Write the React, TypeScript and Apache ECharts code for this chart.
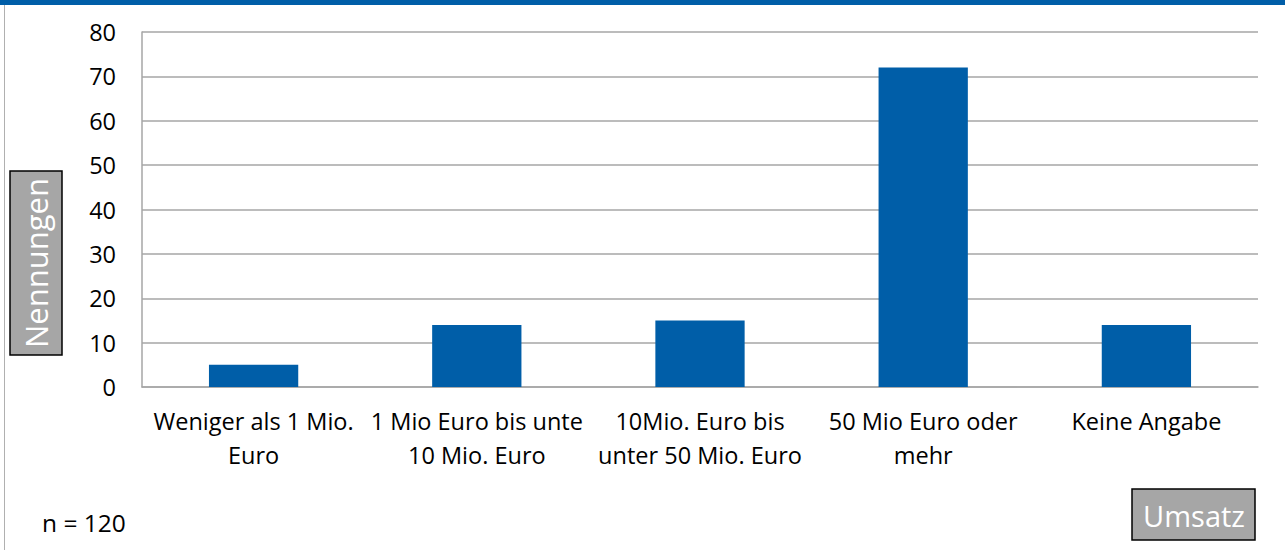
import React, { useEffect, useRef } from "react";
import * as echarts from "echarts";

const categories = [
  "Weniger als 1 Mio.\nEuro",
  "1 Mio Euro bis unte\n10 Mio. Euro",
  "10Mio. Euro bis\nunter 50 Mio. Euro",
  "50 Mio Euro oder\nmehr",
  "Keine Angabe",
];
const values = [5, 14, 15, 72, 14];
const yTicks = { min: 0, max: 80, interval: 10 };
const yAxisTitle = "Nennungen";
const xAxisTitle = "Umsatz";
const note = "n = 120";

const FONT = "'Open Sans', 'Noto Sans', sans-serif";

export default function App() {
  const ref = useRef<HTMLDivElement>(null);
  useEffect(() => {
    if (!ref.current) return;
    const chart = echarts.init(ref.current, undefined, { renderer: "svg" });
    chart.setOption({
      animation: false,
      backgroundColor: "#ffffff",
      textStyle: { fontFamily: FONT },
      grid: { left: 142, right: 27, top: 32, bottom: 163, containLabel: false },
      xAxis: {
        type: "category",
        data: categories,
        axisLine: { show: true, lineStyle: { color: "#a6a6a6", width: 1.5 } },
        axisTick: { show: false },
        axisLabel: {
          color: "#000",
          fontSize: 23.5,
          fontFamily: FONT,
          lineHeight: 34,
          margin: 17,
          interval: 0,
        },
      },
      yAxis: {
        type: "value",
        min: yTicks.min,
        max: yTicks.max,
        interval: yTicks.interval,
        axisLine: { show: true, lineStyle: { color: "#a6a6a6", width: 1.5 } },
        axisTick: { show: false },
        splitLine: { show: true, lineStyle: { color: "#a6a6a6", width: 1.5 } },
        axisLabel: { color: "#000", fontSize: 23.5, fontFamily: FONT, margin: 26 },
      },
      series: [
        {
          type: "bar",
          data: values,
          barWidth: "40%",
          itemStyle: { color: "#005ea8" },
        },
      ],
      graphic: [
        { type: "rect", shape: { x: 0, y: 0, width: 1285, height: 5 }, style: { fill: "#005ea8" }, silent: true },
        { type: "rect", shape: { x: 4, y: 5, width: 1, height: 545 }, style: { fill: "#b0b0b0" }, silent: true },
        {
          type: "rect",
          shape: { x: 10, y: 171, width: 52, height: 184 },
          style: { fill: "#a6a6a6", stroke: "#000", lineWidth: 1.5 },
        },
        {
          type: "text",
          x: 36,
          y: 263,
          rotation: Math.PI / 2,
          style: {
            text: yAxisTitle,
            fill: "#ffffff",
            font: `31px ${FONT}`,
            align: "center",
            verticalAlign: "middle",
          },
        },
        {
          type: "rect",
          shape: { x: 1132, y: 489, width: 123, height: 51 },
          style: { fill: "#a6a6a6", stroke: "#000", lineWidth: 1.5 },
        },
        {
          type: "text",
          x: 1194,
          y: 515,
          style: {
            text: xAxisTitle,
            fill: "#ffffff",
            font: `29px ${FONT}`,
            align: "center",
            verticalAlign: "middle",
          },
        },
        {
          type: "text",
          x: 42,
          y: 522,
          style: {
            text: note,
            fill: "#000",
            font: `24.5px ${FONT}`,
            align: "left",
            verticalAlign: "middle",
          },
        },
      ],
    });
    return () => chart.dispose();
  }, []);
  return (
    <div
      ref={ref}
      style={{ position: "fixed", left: 0, top: 0, width: 1285, height: 550 }}
    />
  );
}
